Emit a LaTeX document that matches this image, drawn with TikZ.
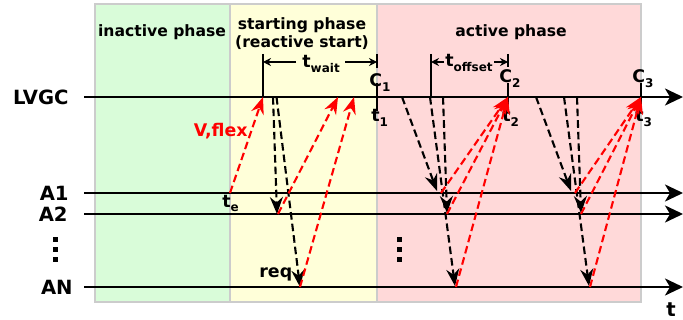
\documentclass[tikz,border=0pt]{standalone}
\usepackage{fontspec}
\setmainfont{DejaVu Sans}
\usetikzlibrary{arrows.meta}
\definecolor{phgreen}{RGB}{217,252,217}
\definecolor{phyellow}{RGB}{255,255,217}
\definecolor{phpink}{RGB}{255,217,217}
\definecolor{phborder}{RGB}{204,204,204}
\newcommand{\mysub}[1]{\raisebox{-0.45ex}{\fontsize{6}{7}\selectfont #1}}
\begin{document}
\begin{tikzpicture}[x=0.5pt,y=-0.5pt,
  font=\bfseries\fontsize{8.7}{10}\selectfont,
  phase/.style={draw=phborder,line width=0.8pt},
  axis/.style={line width=1.2pt,-{Stealth[length=9pt,width=8.5pt,inset=2.5pt]}},
  msg/.style={line width=1.05pt,dash pattern=on 3.8pt off 2pt,-{Stealth[length=8.5pt,width=6.5pt,inset=2.8pt]}},
  blk/.style={msg,black},
  rd/.style={msg,red},
  dim/.style={line width=0.55pt,-{Stealth[length=4pt,width=4pt]}},
  tick/.style={line width=1.3pt},
  big/.style={font=\bfseries\fontsize{9.8}{12}\selectfont,inner sep=0pt},
  lbl/.style={inner sep=0pt},
  title/.style={inner sep=0pt,font=\bfseries\fontsize{7.8}{10}\selectfont},
]
\useasboundingbox (0,0) rectangle (683,320);
% phases
\fill[phgreen] (95,4) rectangle (230,302);
\fill[phyellow] (230,4) rectangle (377,302);
\fill[phpink] (377,4) rectangle (641,302);
\draw[phase] (95,4) rectangle (641,302);
\draw[phase] (230,4) -- (230,302);
\draw[phase] (377,4) -- (377,302);
\node[title,anchor=base] (tin) at (162,37) {inactive phase};
\node[title,anchor=base] (tst) at (302,30) {starting phase};
\node[title,anchor=base] (tre) at (302,48) {(reactive start)};
\node[title,anchor=base] (tac) at (511,37) {active phase};
% axes
\coordinate (L0) at (84,97);  \coordinate (L1) at (683,97);
\coordinate (A10) at (84,193); \coordinate (A11) at (683,193);
\coordinate (A20) at (84,214); \coordinate (A21) at (683,214);
\coordinate (AN0) at (84,287); \coordinate (AN1) at (683,287);
\draw[axis] (L0) -- (L1);
\draw[axis] (A10) -- (A11);
\draw[axis] (A20) -- (A21);
\draw[axis] (AN0) -- (AN1);
\node[big,anchor=east] (lvgc) at (69,97) {LVGC};
\node[big,anchor=east] (a1) at (69,193) {A1};
\node[big,anchor=east] (a2) at (68,214) {A2};
\node[big,anchor=east] (an) at (73,287) {AN};
\node[big,anchor=base] (tax) at (671,316) {t};
\foreach \yy in {237,247,257} {
  \fill (53,\yy) rectangle (58,\yy+5);
  \fill (397,\yy) rectangle (402,\yy+5);
}
% ticks and labels
\coordinate (C1) at (377,97); \coordinate (C2) at (508,97); \coordinate (C3) at (641,97);
\foreach \c in {C1,C2,C3} { \draw[tick] ([yshift=7]\c) -- ([yshift=-7]\c); }
\node[lbl,anchor=base west] (c1l) at (369,87) {C\mysub{1}};
\node[lbl,anchor=base west] (c2l) at (499,83) {C\mysub{2}};
\node[lbl,anchor=base west] (c3l) at (632,83) {C\mysub{3}};
\node[lbl,anchor=base west] (t1l) at (371,122) {t\mysub{1}};
\node[lbl,anchor=base west] (t2l) at (502,122) {t\mysub{2}};
\node[lbl,anchor=base west] (t3l) at (635,122) {t\mysub{3}};
% t_wait
\coordinate (W0) at (263,54); \coordinate (W1) at (263,97);
\draw[line width=0.6pt] (W0) -- (W1);
\draw[line width=0.6pt] (377,54) -- (377,68);
\node[lbl,anchor=base west] (tw) at (302,68) {t\mysub{wait}};
\coordinate (WL) at (263,62); \coordinate (WR) at (377,62);
\draw[dim] (tw.west |- WL) ++(-6,0) -- (WL);
\draw[dim] (tw.east |- WR) ++(5,0) -- (WR);
% t_offset
\coordinate (O0) at (431,54); \coordinate (O1) at (431,97);
\draw[line width=0.6pt] (O0) -- (O1);
\draw[line width=0.6pt] (508,54) -- (508,67);
\node[lbl,anchor=base west] (to) at (445,67) {t\mysub{offset}};
\coordinate (OL) at (431,62); \coordinate (OR) at (508,62);
\draw[dim] (to.west |- OL) ++(-1,0) -- (OL);
\draw[dim] (to.east |- OR) ++(1,0) -- (OR);
% starting phase
\coordinate (te) at (230,193);
\node[lbl,anchor=base west] (tel) at (222,207) {t\mysub{e}};
\draw[rd] (te) -- (263,97);
\node[lbl,anchor=base east,red] (vflex) at (248,137) {V,flex};
\draw[blk] (273,97) -- (277,214);
\draw[blk] (276.5,97) -- (300,287);
\draw[rd] (278,214) -- (338,97);
\draw[rd] (300,287) -- (354,97);
\node[lbl,anchor=base west] (req) at (259,277) {req};
% active cycles
\foreach \dx in {0,134} {
  \begin{scope}[xshift=\dx*0.5pt]
  \draw[blk] (402,97) -- (437,191);
  \draw[blk] (443,97) -- (447,213);
  \draw[blk] (430,97) -- (455,286);
  \end{scope}
}
\draw[rd] (441,193) -- (C2);
\draw[rd] (447,214) -- (C2);
\draw[rd] (456,287) -- (C2);
\draw[rd] (575,193) -- (C3);
\draw[rd] (581,214) -- (C3);
\draw[rd] (590,287) -- (C3);
\end{tikzpicture}
\end{document}
